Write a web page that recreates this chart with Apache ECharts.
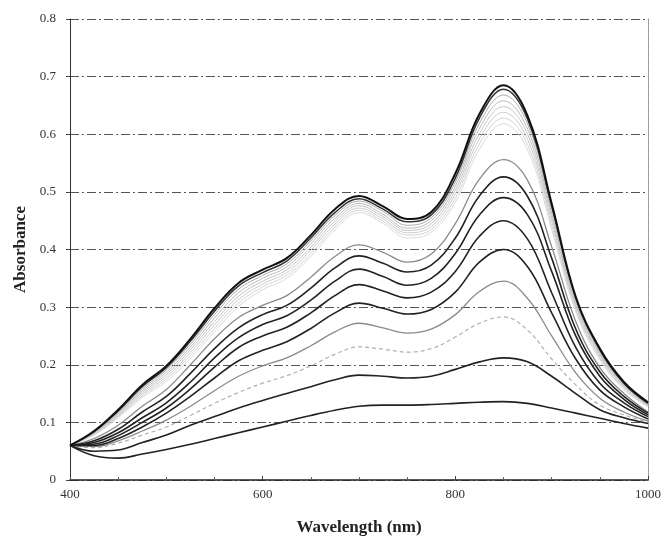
<!DOCTYPE html>
<html>
<head>
<meta charset="utf-8">
<script src="https://cdn.jsdelivr.net/npm/echarts@6/dist/echarts.min.js"></script>
<style>
  html, body { margin: 0; padding: 0; background: #fff; }
  #chart { width: 665px; height: 542px; }
</style>
</head>
<body>
<div id="chart"></div>
<script>
// wavelengths (nm)
var wavelengths = [400, 425, 450, 475, 500, 525, 550, 575, 600, 625, 650, 675, 700,
  725, 750, 775, 800, 825, 850, 875, 900, 925, 950, 975, 1000];

// absorbance spectra, top to bottom
var t1 = [.060, .085, .122, .165, .198, .245, .298, .342, .365, .385, .425, .470, .493, .475, .453, .465, .532, .635, .685, .632, .480, .318, .228, .170, .135];
var t2 = [.060, .084, .120, .162, .195, .241, .293, .337, .360, .380, .420, .464, .488, .470, .448, .460, .524, .628, .678, .626, .476, .316, .226, .168, .133];
var g1 = [.060, .083, .118, .158, .191, .236, .287, .331, .355, .375, .415, .459, .484, .466, .442, .455, .517, .619, .668, .618, .470, .313, .224, .167, .132];
var g2 = [.060, .082, .116, .155, .187, .231, .281, .325, .350, .370, .410, .454, .480, .461, .437, .450, .510, .610, .658, .609, .463, .308, .221, .165, .131];
var g3 = [.060, .081, .114, .152, .183, .226, .275, .319, .345, .365, .404, .449, .476, .457, .433, .445, .503, .601, .648, .600, .456, .304, .218, .163, .130];
var g4 = [.060, .080, .112, .149, .179, .221, .269, .313, .340, .360, .399, .444, .472, .453, .429, .440, .496, .592, .638, .591, .449, .300, .215, .161, .129];
var g5 = [.060, .079, .110, .146, .175, .216, .263, .307, .335, .355, .393, .439, .468, .449, .425, .435, .489, .583, .628, .582, .442, .296, .212, .159, .128];
var g6 = [.060, .078, .108, .143, .171, .211, .257, .301, .330, .350, .388, .434, .464, .445, .420, .430, .482, .574, .618, .573, .435, .292, .209, .157, .127];
var c1 = [.060, .072, .095, .128, .157, .200, .245, .282, .303, .320, .352, .388, .408, .395, .378, .392, .445, .522, .556, .520, .405, .275, .195, .150, .118];
var c2 = [.060, .068, .088, .118, .145, .185, .228, .264, .287, .303, .333, .368, .389, .376, .361, .373, .420, .493, .526, .492, .385, .262, .188, .145, .116];
var c3 = [.060, .065, .082, .108, .134, .170, .212, .247, .270, .285, .312, .345, .366, .353, .338, .350, .393, .460, .490, .460, .362, .250, .180, .140, .113];
var c4 = [.060, .062, .077, .100, .125, .158, .196, .230, .250, .265, .290, .320, .339, .328, .316, .326, .362, .423, .450, .418, .325, .230, .168, .134, .110];
var c5 = [.060, .060, .072, .092, .116, .145, .177, .207, .225, .240, .263, .290, .307, .298, .288, .296, .326, .378, .400, .370, .290, .210, .156, .127, .106];
var c6 = [.060, .058, .068, .085, .104, .128, .155, .180, .198, .212, .233, .257, .272, .264, .255, .262, .287, .327, .345, .315, .250, .186, .142, .118, .102];
var c7 = [.060, .056, .064, .078, .092, .112, .133, .152, .168, .181, .198, .218, .231, .227, .222, .228, .248, .272, .283, .260, .210, .165, .130, .113, .100];
var c8 = [.060, .050, .052, .065, .078, .095, .110, .125, .138, .150, .162, .174, .182, .180, .177, .180, .192, .205, .212, .205, .180, .150, .122, .108, .098];
var c9 = [.060, .042, .038, .045, .053, .062, .072, .082, .092, .102, .112, .121, .128, .130, .130, .131, .133, .135, .136, .133, .125, .116, .107, .098, .090];

var xTicks = [400, 600, 800, 1000];
var yTicks = [0, 0.1, 0.2, 0.3, 0.4, 0.5, 0.6, 0.7, 0.8];

var spectra = [
  { d: t1, color: '#111', w: 2 },
  { d: t2, color: '#333', w: 1.5 },
  { d: g1, color: '#aaa', w: 1 },
  { d: g2, color: '#bbb', w: 1 },
  { d: g3, color: '#c4c4c4', w: 1 },
  { d: g4, color: '#ccc', w: 1 },
  { d: g5, color: '#d4d4d4', w: 1 },
  { d: g6, color: '#dadada', w: 1 },
  { d: c1, color: '#8a8a8a', w: 1.3 },
  { d: c2, color: '#222', w: 1.6 },
  { d: c3, color: '#222', w: 1.6 },
  { d: c4, color: '#222', w: 1.6 },
  { d: c5, color: '#222', w: 1.6 },
  { d: c6, color: '#8a8a8a', w: 1.3 },
  { d: c7, color: '#b0b0b0', w: 1.2, dash: [4, 3] },
  { d: c8, color: '#222', w: 1.6 },
  { d: c9, color: '#222', w: 1.6 }
];

var myChart = echarts.init(document.getElementById('chart'));

var series = spectra.map(function (s, i) {
  return {
    name: 's' + i,
    type: 'line',
    smooth: 0.4,
    symbol: 'none',
    silent: true,
    z: 20 - i + (s.color === '#222' || i < 2 ? 20 : 0),
    lineStyle: { color: s.color, width: s.w, type: s.dash || 'solid' },
    data: wavelengths.map(function (x, k) { return [x, s.d[k]]; })
  };
});

var serif = '"Liberation Serif", "DejaVu Serif", serif';

var option = {
  animation: false,
  backgroundColor: '#fff',
  grid: { left: 70, right: 17, top: 19, bottom: 62 },
  xAxis: {
    type: 'value',
    min: xTicks[0],
    max: xTicks[xTicks.length - 1],
    interval: 200,
    name: 'Wavelength (nm)',
    nameLocation: 'middle',
    nameGap: 39,
    nameTextStyle: { fontFamily: serif, fontWeight: 'bold', fontSize: 17, color: '#222' },
    axisLine: { lineStyle: { color: '#222', width: 1.5 } },
    axisTick: { inside: true, length: 4, lineStyle: { color: '#444' } },
    minorTick: { show: true, splitNumber: 4, length: 3, lineStyle: { color: '#666' } },
    axisLabel: {
      fontFamily: serif, fontSize: 13, color: '#333', margin: 8,
      formatter: function (v) { return String(v); }
    },
    splitLine: { show: false }
  },
  yAxis: [{
    type: 'value',
    min: yTicks[0],
    max: yTicks[yTicks.length - 1],
    interval: 0.1,
    name: 'Absorbance',
    nameLocation: 'middle',
    nameGap: 38,
    nameTextStyle: { fontFamily: serif, fontWeight: 'bold', fontSize: 17, color: '#222' },
    axisLine: { show: true, lineStyle: { color: '#333', width: 1 } },
    axisTick: { show: true, inside: false, length: 4, lineStyle: { color: '#444' } },
    axisLabel: {
      fontFamily: serif, fontSize: 13, color: '#333', margin: 14,
      formatter: function (v) { return String(Math.round(v * 10) / 10); }
    },
    splitLine: { show: true, lineStyle: { color: '#555', width: 1, type: [9, 3, 2, 3] } }
  }, {
    type: 'value',
    position: 'right',
    min: yTicks[0],
    max: yTicks[yTicks.length - 1],
    interval: 0.1,
    axisLine: { show: true, lineStyle: { color: '#888', width: 1, type: 'dotted' } },
    axisTick: { show: false },
    axisLabel: { show: false },
    splitLine: { show: false }
  }],
  series: series
};

myChart.setOption(option);
</script>
</body>
</html>
